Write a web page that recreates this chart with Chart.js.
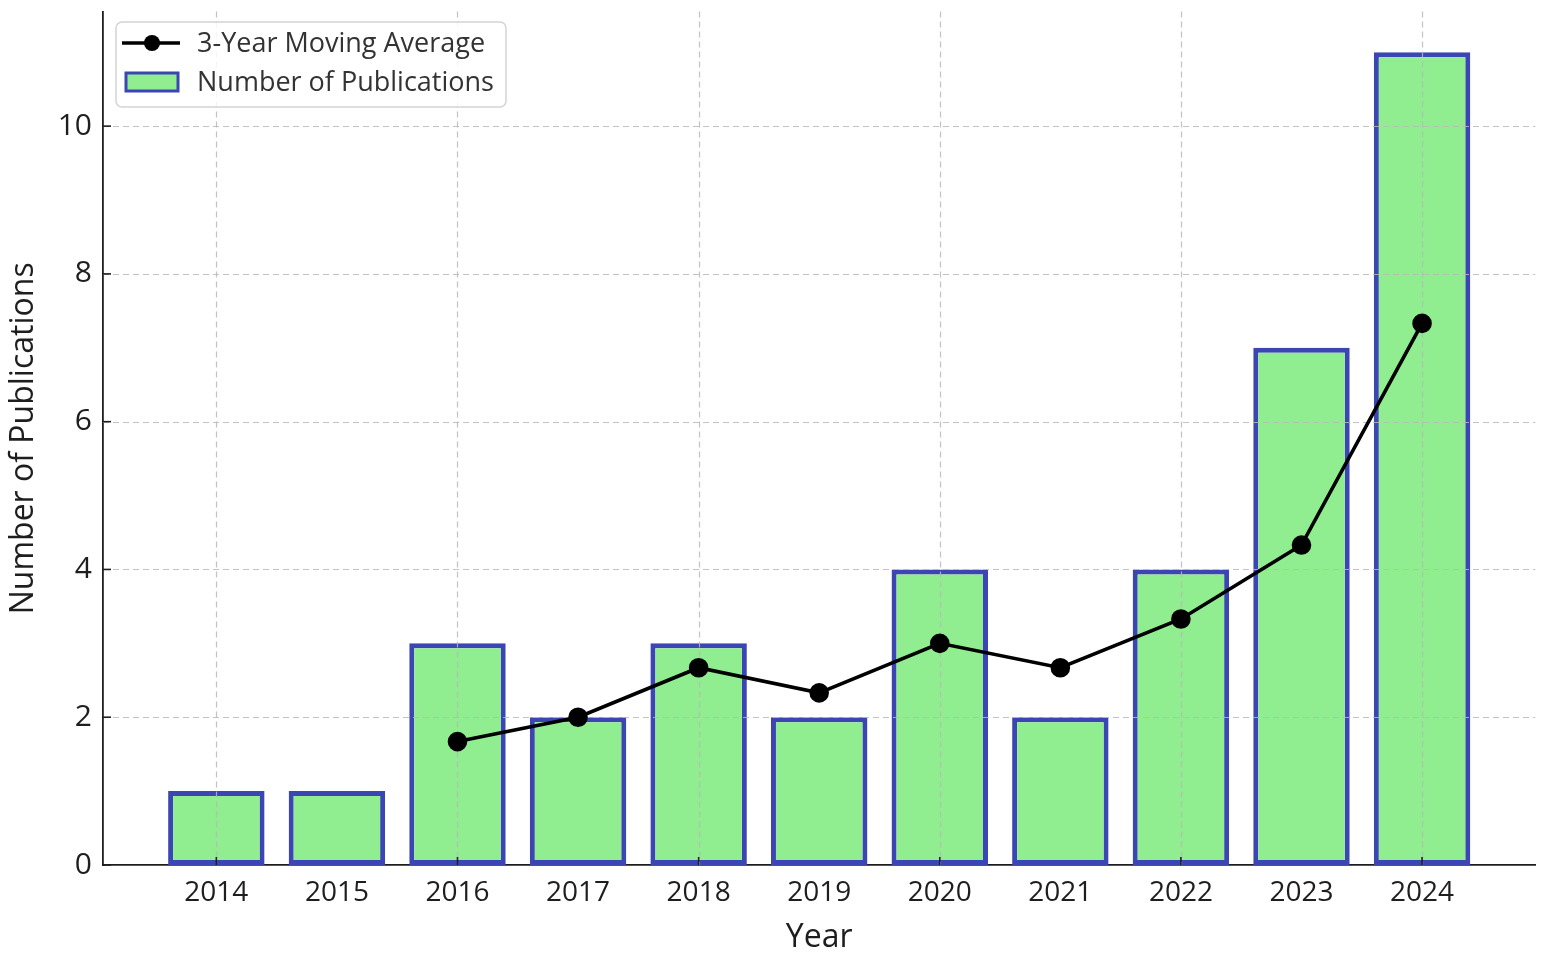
<!DOCTYPE html>
<html>
<head>
<meta charset="utf-8">
<script src="https://cdn.jsdelivr.net/npm/chart.js@4/dist/chart.umd.min.js"></script>
<style>
  html, body { margin: 0; padding: 0; background: #fff; }
  #wrap { width: 1547px; height: 961px; position: relative; }
</style>
</head>
<body>
<div id="wrap"><canvas id="pubs"></canvas></div>
<script>
const years = [2014, 2015, 2016, 2017, 2018, 2019, 2020, 2021, 2022, 2023, 2024];
const publications = [1, 1, 3, 2, 3, 2, 4, 2, 4, 7, 11];
const movingAverage = [null, null, 1.67, 2, 2.67, 2.33, 3, 2.67, 3.33, 4.33, 7.33];
const yTicks = [0, 2, 4, 6, 8, 10];
const gridYears = [2014, 2016, 2018, 2020, 2022, 2024];

const FONT = '"Open Sans", "Noto Sans", sans-serif';
const INK = '#1e1e1e';

// grid sits above the bars but below the line, like the matplotlib original
const gridAndTicks = {
  id: 'gridAndTicks',
  beforeDatasetDraw(chart, args) {
    if (args.index !== 0) return;
    const {ctx, chartArea, scales} = chart;
    const {left, right, top, bottom} = chartArea;
    ctx.save();
    ctx.strokeStyle = 'rgba(185,185,185,.85)';
    ctx.lineWidth = 1.2;
    ctx.setLineDash([6, 4]);
    yTicks.forEach(v => {
      if (v === 0) return;
      const y = Math.round(scales.y.getPixelForValue(v)) + .5;
      ctx.beginPath(); ctx.moveTo(left, y); ctx.lineTo(right, y); ctx.stroke();
    });
    gridYears.forEach(v => {
      const x = Math.round(scales.x.getPixelForValue(v)) + .5;
      ctx.beginPath(); ctx.moveTo(x, top); ctx.lineTo(x, bottom); ctx.stroke();
    });
    ctx.setLineDash([]);
    ctx.strokeStyle = INK;
    ctx.lineWidth = 1.6;
    yTicks.forEach(v => {
      const y = scales.y.getPixelForValue(v);
      ctx.beginPath(); ctx.moveTo(left, y); ctx.lineTo(left + 8, y); ctx.stroke();
    });
    gridYears.forEach(v => {
      const x = scales.x.getPixelForValue(v);
      ctx.beginPath(); ctx.moveTo(x, bottom); ctx.lineTo(x, bottom - 8); ctx.stroke();
    });
    ctx.restore();
  }
};

const boxLegend = {
  id: 'boxLegend',
  afterDatasetsDraw(chart) {
    const {ctx} = chart;
    const [line, bars] = chart.data.datasets;
    const bx = 116, by = 22, bw = 390, bh = 85;
    ctx.save();
    ctx.beginPath();
    ctx.roundRect(bx, by, bw, bh, 6);
    ctx.fillStyle = 'rgba(255,255,255,.85)';
    ctx.fill();
    ctx.strokeStyle = '#d4d4d4';
    ctx.lineWidth = 1.5;
    ctx.stroke();

    ctx.strokeStyle = line.borderColor;
    ctx.lineWidth = line.borderWidth;
    ctx.beginPath(); ctx.moveTo(122, 43); ctx.lineTo(180, 43); ctx.stroke();
    ctx.fillStyle = line.pointBackgroundColor;
    ctx.beginPath(); ctx.arc(152, 43, line.pointRadius, 0, Math.PI * 2); ctx.fill();

    ctx.fillStyle = bars.backgroundColor;
    ctx.fillRect(126, 73, 52, 18);
    ctx.strokeStyle = bars.borderColor;
    ctx.lineWidth = 3;
    ctx.strokeRect(126, 73, 52, 18);

    ctx.font = `27px ${FONT}`;
    ctx.fillStyle = '#333';
    ctx.textBaseline = 'middle';
    ctx.fillText(line.label, 197, 44);
    ctx.fillText(bars.label, 197, 83);
    ctx.restore();
  }
};

new Chart(document.getElementById('pubs'), {
  type: 'bar',
  data: {
    datasets: [
      {
        type: 'line',
        label: '3-Year Moving Average',
        data: years.map((x, i) => ({x, y: movingAverage[i]})),
        borderColor: '#000',
        borderWidth: 3.6,
        pointBackgroundColor: '#000',
        pointBorderColor: '#000',
        pointRadius: 8,
        pointHoverRadius: 8,
        tension: 0,
        clip: 12
      },
      {
        label: 'Number of Publications',
        data: years.map((x, i) => ({x, y: publications[i]})),
        backgroundColor: '#90ee90',
        borderColor: '#3c45b4',
        borderWidth: 5,
        borderSkipped: false,
        barPercentage: 0.8,
        categoryPercentage: 1
      }
    ]
  },
  plugins: [gridAndTicks, boxLegend],
  options: {
    responsive: true,
    maintainAspectRatio: false,
    animation: false,
    layout: {padding: {top: 10, right: 11, left: 0, bottom: 0}},
    plugins: {legend: {display: false}, tooltip: {enabled: false}},
    scales: {
      x: {
        type: 'linear',
        offset: false,
        min: 2013.06,
        max: 2024.94,
        afterBuildTicks: s => { s.ticks = years.map(value => ({value})); },
        afterFit: s => { s.height = 96; s.paddingLeft = 0; s.paddingRight = 0; },
        grid: {display: false, drawTicks: false},
        border: {display: true, color: INK, width: 1.8},
        ticks: {color: INK, font: {family: FONT, size: 28}, padding: 11, maxRotation: 0, autoSkip: false, callback: v => String(v)},
        title: {display: true, text: 'Year', color: INK, font: {family: FONT, size: 32}, padding: {top: 0, bottom: 4}}
      },
      y: {
        min: 0,
        max: 11.55,
        afterBuildTicks: s => { s.ticks = yTicks.map(value => ({value})); },
        afterFit: s => { s.width = 103; s.paddingTop = 0; s.paddingBottom = 0; },
        grid: {display: false, drawTicks: false},
        border: {display: true, color: INK, width: 1.8},
        ticks: {color: INK, font: {family: FONT, size: 30}, padding: 11},
        title: {display: true, text: 'Number of Publications', color: INK, font: {family: FONT, size: 32}, padding: {top: 5, bottom: 0}}
      }
    }
  }
});
</script>
</body>
</html>
